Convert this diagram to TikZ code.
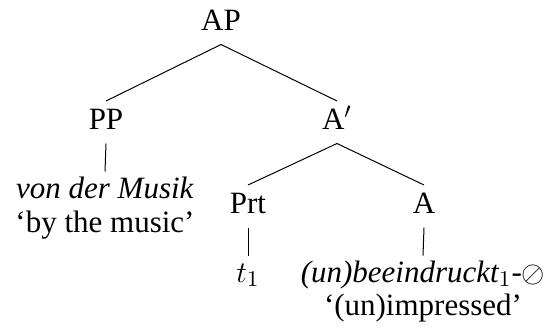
\documentclass[tikz,border=0pt]{standalone}
\usepackage{fontspec}
\setmainfont{Liberation Serif}
\usepackage{amssymb}
\begin{document}
\begin{tikzpicture}[x=0.4pt,y=-0.4pt,
  every node/.style={font=\fontsize{12.4pt}{14pt}\selectfont, anchor=base, inner xsep=1pt},
  cat/.style={text height=8pt, text depth=2.6pt, inner ysep=3pt},
  leaf/.style={text height=7.4pt, text depth=2.6pt, inner ysep=3pt},
  gloss/.style={inner sep=0pt},
  branch/.style={draw=black, line width=0.4pt}]
\useasboundingbox (0,0) rectangle (552,328);

% category nodes
\node[cat] (AP)  at (221,30)  {AP};
\node[cat] (PP)  at (106,129) {PP};
\node[cat] (Ab)  at (337,129) {A$'$};
\node[cat] (Prt) at (248,213) {Prt};
\node[cat] (A)   at (424,213) {A};

% terminals and glosses
\node[leaf]  (vdm)  at (105,198) {\textit{von der Musik}};
\node[gloss] (gl1)  at (105,232) {`by the music'};
\node[leaf]  (t)    at (248,282) {$t_1$};
\node[leaf]  (bee)  at (423,282) {\textit{(un)beeindruckt$_1$-}$\oslash$};
\node[gloss] (gl2)  at (423,315) {`(un)impressed'};

% branches
\draw[branch] (AP.south)  -- (PP.north);
\draw[branch] (AP.south)  -- (Ab.north);
\draw[branch] (Ab.south)  -- (Prt.north);
\draw[branch] (Ab.south)  -- (A.north);
\draw[branch] (PP.south)  -- (vdm.north);
\draw[branch] (Prt.south) -- (t.north);
\draw[branch] (A.south)   -- (bee.north);
\end{tikzpicture}
\end{document}
